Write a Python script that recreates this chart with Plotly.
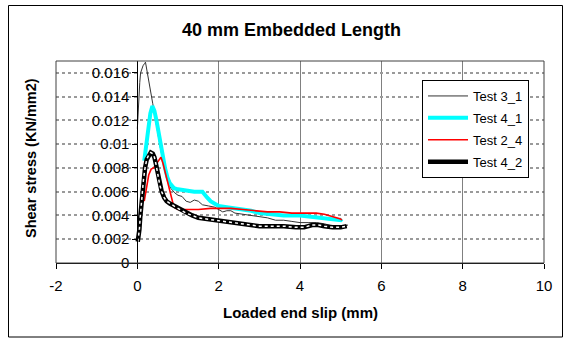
import plotly.graph_objects as go

# ---- data ----
test31_x = [0.0, 0.01, 0.02, 0.04, 0.06, 0.08, 0.11, 0.14, 0.18, 0.2, 0.38, 0.56, 0.7, 0.82, 0.92,
            1.0, 1.1, 1.2, 1.3, 1.4, 1.5, 1.6, 1.75, 1.9, 2.0, 2.1, 2.2, 2.3, 2.4, 2.6, 2.8, 3.0,
            3.2, 3.4, 3.6, 3.8, 4.0, 4.2, 4.4, 4.6, 4.8, 5.0, 5.1, 5.18]
test31_y = [0.0113, 0.0122, 0.0130, 0.0140, 0.0152, 0.0160, 0.0164, 0.0166, 0.0168, 0.0169, 0.0134,
            0.0098, 0.0074, 0.0063, 0.0059, 0.0057, 0.0056, 0.0052, 0.0051, 0.0053, 0.0052, 0.0049,
            0.0048, 0.0047, 0.0045, 0.0043, 0.0044, 0.0044, 0.0042, 0.0041, 0.0040, 0.0039, 0.0038,
            0.0036, 0.0036, 0.0035, 0.0034, 0.0034, 0.0034, 0.0033, 0.0031, 0.0030, 0.0031, 0.0032]

test41_x = [0.17, 0.22, 0.27, 0.32, 0.37, 0.42, 0.47, 0.52, 0.57, 0.62, 0.68, 0.74, 0.8, 0.9, 1.0,
            1.2, 1.4, 1.6, 1.66, 1.72, 1.8, 1.9, 2.0, 2.2, 2.4, 2.6, 2.8, 3.0, 3.3, 3.6, 4.0, 4.3,
            4.6, 4.8, 5.0, 5.03]
test41_y = [0.0086, 0.0100, 0.0115, 0.0126, 0.0132, 0.0128, 0.0120, 0.0110, 0.0100, 0.0090, 0.0080,
            0.0072, 0.0067, 0.0063, 0.0062, 0.0061, 0.0060, 0.0060, 0.0058, 0.0055, 0.0052, 0.0050,
            0.0048, 0.0047, 0.0046, 0.0045, 0.0044, 0.0042, 0.0041, 0.0040, 0.0040, 0.0039, 0.0038,
            0.0037, 0.0036, 0.0037]

test24_x = [0.17, 0.22, 0.28, 0.34, 0.4, 0.46, 0.52, 0.58, 0.63, 0.68, 0.74, 0.8, 0.85, 0.9, 1.0,
            1.2, 1.5, 1.8, 2.0, 2.3, 2.6, 2.9, 3.2, 3.5, 3.8, 4.1, 4.4, 4.6, 4.8, 5.0, 5.03]
test24_y = [0.0052, 0.0064, 0.0074, 0.0079, 0.0080, 0.0083, 0.0086, 0.0089, 0.0084, 0.0077, 0.0069,
            0.0060, 0.0052, 0.0047, 0.0045, 0.0045, 0.0045, 0.0046, 0.0046, 0.0046, 0.0045, 0.0044,
            0.0043, 0.0043, 0.0042, 0.0042, 0.0042, 0.0041, 0.0039, 0.0037, 0.0036]

test42_x = [0.01, 0.03, 0.05, 0.07, 0.09, 0.12, 0.15, 0.19, 0.23, 0.28, 0.33, 0.38, 0.42, 0.46, 0.5,
            0.55, 0.6, 0.66, 0.72, 0.8, 0.9, 1.0, 1.1, 1.2, 1.35, 1.5, 1.7, 1.9, 2.1, 2.3, 2.5, 2.7,
            3.0, 3.3, 3.6, 3.9, 4.1, 4.3, 4.45, 4.6, 4.8, 5.0, 5.15]
test42_y = [0.0018, 0.0022, 0.0028, 0.0038, 0.0047, 0.0060, 0.0070, 0.0080, 0.0087, 0.0091, 0.0093,
            0.0092, 0.0089, 0.0083, 0.0075, 0.0066, 0.0060, 0.0055, 0.0052, 0.0050, 0.0048, 0.0046,
            0.0044, 0.0042, 0.0040, 0.0038, 0.0037, 0.0036, 0.0035, 0.0034, 0.0033, 0.0032, 0.0031,
            0.0031, 0.0031, 0.0030, 0.0030, 0.0032, 0.0032, 0.0031, 0.0030, 0.0030, 0.0031]

x_ticks = [-2, 0, 2, 4, 6, 8, 10]
x_ticktext = ["-2", "0", "2", "4", "6", "8", "10"]
y_ticks = [0, 0.002, 0.004, 0.006, 0.008, 0.01, 0.012, 0.014, 0.016]
y_ticktext = ["0", "0.002", "0.004", "0.006", "0.008", "0.01", "0.012", "0.014", "0.016"]

FONT = "Liberation Sans, Arial, sans-serif"

# plot-area geometry in pixels
W, H = 565, 338
L, R, T, B = 56, 21, 61, 75
pw, ph = W - L - R, H - T - B


def px_x(p):
    return (p - L) / pw


def px_y(p):
    return (H - B - p) / ph


fig = go.Figure()
fig.add_trace(go.Scatter(x=test31_x, y=test31_y, mode="lines", name="Test 3_1",
                         legendgroup="a", line=dict(color="#333333", width=1)))
fig.add_trace(go.Scatter(x=test41_x, y=test41_y, mode="lines", name="Test 4_1",
                         legendgroup="b", line=dict(color="#00FFFF", width=4)))
fig.add_trace(go.Scatter(x=test24_x, y=test24_y, mode="lines", name="Test 2_4",
                         legendgroup="c", line=dict(color="#FF0000", width=1.6)))
fig.add_trace(go.Scatter(x=test42_x, y=test42_y, mode="lines", name="Test 4_2",
                         legendgroup="d", line=dict(color="#000000", width=4.5)))
fig.add_trace(go.Scatter(x=test42_x, y=test42_y, mode="lines", showlegend=False,
                         legendgroup="d", hoverinfo="skip",
                         line=dict(color="#FFFFFF", width=1.5, dash="dot")))

fig.update_layout(
    width=W, height=H,
    margin=dict(l=L, r=R, t=T, b=B, autoexpand=False),
    paper_bgcolor="white", plot_bgcolor="white",
    font=dict(family=FONT, color="black", size=15),
    showlegend=True,
    legend=dict(x=px_x(422), y=px_y(80), xanchor="left", yanchor="top",
                bgcolor="white", bordercolor="black", borderwidth=1,
                font=dict(size=13, family=FONT), tracegroupgap=2,
                traceorder="grouped", itemwidth=40),
    xaxis=dict(range=[-2, 10], tickvals=x_ticks, ticktext=x_ticktext,
               ticks="outside", ticklen=5,
               tickcolor="black", showline=True, linecolor="black", linewidth=1,
               showgrid=True, gridcolor="#808080", gridwidth=1, zeroline=False,
               tickfont=dict(size=15), ticklabelstandoff=4, automargin=False),
    yaxis=dict(range=[0, 0.017], tickvals=y_ticks, ticktext=y_ticktext,
               anchor="free", position=2 / 12, ticks="outside", ticklen=5,
               tickcolor="black", showline=True, linecolor="black", linewidth=1,
               showgrid=True, gridcolor="#9a9a9a", gridwidth=1.5, griddash="dot",
               zeroline=False, tickfont=dict(size=15), automargin=False),
    shapes=[
        dict(type="rect", xref="paper", yref="paper", x0=0, x1=1, y0=0, y1=1,
             line=dict(color="#404040", width=1), layer="above"),
        dict(type="rect", xref="paper", yref="paper",
             x0=px_x(8.5), x1=px_x(562.5), y0=px_y(337), y1=px_y(5.5),
             line=dict(color="black", width=1)),
    ],
    annotations=[
        dict(text="<b>40 mm Embedded Length</b>", xref="paper", yref="paper",
             x=px_x(291), y=px_y(30), xanchor="center", yanchor="middle",
             showarrow=False, font=dict(size=18)),
        dict(text="<b>Loaded end slip (mm)</b>", xref="paper", yref="paper",
             x=px_x(300), y=px_y(312), xanchor="center", yanchor="middle",
             showarrow=False, font=dict(size=15)),
        dict(text="<b>Shear stress (KN/mm2)</b>", xref="paper", yref="paper",
             x=px_x(31), y=px_y(158), xanchor="center", yanchor="middle",
             textangle=-90, showarrow=False, font=dict(size=14.5)),
    ],
)

fig.write_html("out.html",
               config={"displayModeBar": False},
               post_script="document.body.style.margin='0px';"
                           "document.body.style.overflow='hidden';")
